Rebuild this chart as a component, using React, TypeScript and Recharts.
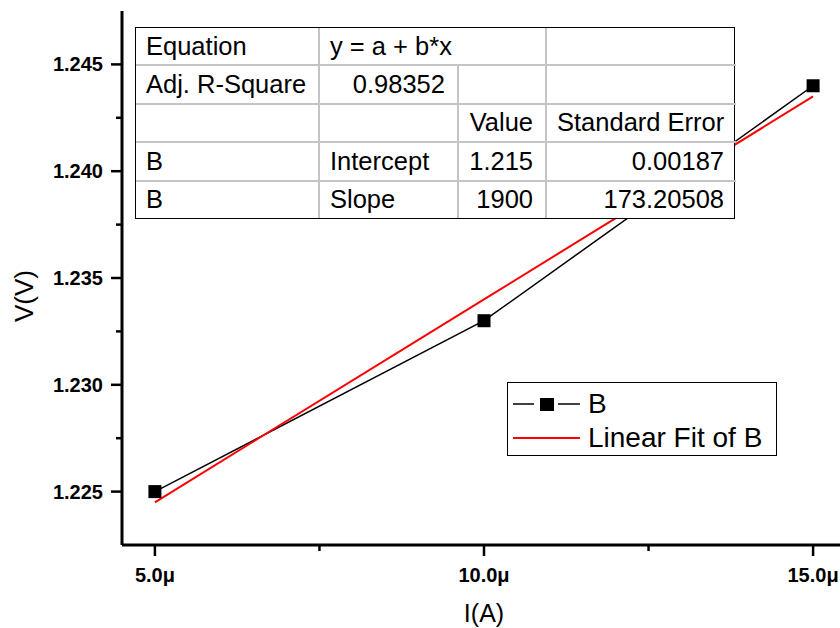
import React from 'react';
import { LineChart, Line, XAxis, YAxis, Legend, Label } from 'recharts';

// Data (current in μA, voltage in V)
const currents = [5, 10, 15];
const voltages = [1.225, 1.233, 1.244];
const fitVoltages = [1.2245, 1.234, 1.2435];

const xTicks = [5, 7.5, 10, 12.5, 15];
const yTicks = [1.225, 1.2275, 1.23, 1.2325, 1.235, 1.2375, 1.24, 1.2425, 1.245];

const tableRows: string[][] = [
  ['Equation', 'y = a + b*x', '', ''],
  ['Adj. R-Square', '0.98352', '', ''],
  ['', '', 'Value', 'Standard Error'],
  ['B', 'Intercept', '1.215', '0.00187'],
  ['B', 'Slope', '1900', '173.20508'],
];

const data = currents.map((c, i) => ({ x: c, v: voltages[i], fit: fitVoltages[i] }));

const FONT = '"Liberation Sans", Arial, sans-serif';

const XTick = (props: any) => {
  const { x, y, payload, index } = props;
  const major = index % 2 === 0;
  const top = y - 10;
  return (
    <g>
      <line x1={x} x2={x} y1={top} y2={top + (major ? 11 : 6)} stroke="#000" strokeWidth={2.5} />
      {major && (
        <text x={x} y={top + 37} textAnchor="middle" fontSize={20} fontWeight="bold" fontFamily={FONT} fill="#000">
          {payload.value.toFixed(1) + 'μ'}
        </text>
      )}
    </g>
  );
};

const YTick = (props: any) => {
  const { x, y, payload, index } = props;
  const major = index % 2 === 0;
  const right = x + 10;
  return (
    <g>
      <line x1={right} x2={right - (major ? 11 : 6)} y1={y} y2={y} stroke="#000" strokeWidth={2.5} />
      {major && (
        <text x={right - 19} y={y + 7} textAnchor="end" fontSize={20} fontWeight="bold" fontFamily={FONT} fill="#000">
          {payload.value.toFixed(3)}
        </text>
      )}
    </g>
  );
};

const SquareDot = (props: any) => {
  const { cx, cy } = props;
  if (cx == null || cy == null) return null;
  return <rect x={cx - 6.5} y={cy - 6.5} width={13} height={13} fill="#000" />;
};

const LegendContent = () => (
  <div
    style={{
      border: '1px solid #000',
      background: '#fff',
      width: 268,
      height: 72,
      fontFamily: FONT,
      fontSize: 28,
      color: '#000',
      boxSizing: 'content-box',
    }}
  >
    <div style={{ display: 'flex', alignItems: 'center', height: 34, marginTop: 4 }}>
      <svg width={80} height={34}>
        <line x1={5} x2={26} y1={17} y2={17} stroke="#000" strokeWidth={1.5} />
        <rect x={32} y={11} width={14} height={13} fill="#000" />
        <line x1={50} x2={72} y1={17} y2={17} stroke="#000" strokeWidth={1.5} />
      </svg>
      <span style={{ lineHeight: '34px' }}>B</span>
    </div>
    <div style={{ display: 'flex', alignItems: 'center', height: 34 }}>
      <svg width={80} height={34}>
        <line x1={5} x2={72} y1={17} y2={17} stroke="#ff0000" strokeWidth={2} />
      </svg>
      <span style={{ lineHeight: '34px' }}>Linear Fit of B</span>
    </div>
  </div>
);

const cellBase: React.CSSProperties = {
  border: '2px solid #c4c4c4',
  padding: '0 12px 0 10px',
  height: 36,
  whiteSpace: 'nowrap',
};

const colWidths = [183, 139, 88, 190];

const FitTable = () => (
  <div
    style={{
      position: 'absolute',
      left: 135,
      top: 27,
      width: 600,
      height: 192,
      border: '1.5px solid #000',
      background: '#fff',
      boxSizing: 'border-box',
      fontFamily: FONT,
      fontSize: 25.5,
      color: '#000',
    }}
  >
    <table
      style={{
        borderCollapse: 'collapse',
        borderStyle: 'hidden',
        width: '100%',
        height: '100%',
        tableLayout: 'fixed',
      }}
    >
      <colgroup>
        {colWidths.map((w, i) => (
          <col key={i} style={{ width: w }} />
        ))}
      </colgroup>
      <tbody>
        {tableRows.map((row, r) => {
          if (r === 0) {
            return (
              <tr key={r}>
                <td style={{ ...cellBase, textAlign: 'left' }}>{row[0]}</td>
                <td colSpan={2} style={{ ...cellBase, textAlign: 'left' }}>{row[1]}</td>
                <td style={cellBase}>{row[3]}</td>
              </tr>
            );
          }
          return (
            <tr key={r}>
              {row.map((cell, c) => {
                const numeric = cell !== '' && /^[0-9.\s]+$/.test(cell);
                const align = c === 0 ? 'left' : c === 1 ? (numeric ? 'right' : 'left') : 'right';
                return (
                  <td key={c} style={{ ...cellBase, textAlign: align as any }}>
                    {cell}
                  </td>
                );
              })}
            </tr>
          );
        })}
      </tbody>
    </table>
  </div>
);

const YLabel = (props: any) => {
  const { viewBox } = props;
  const x = viewBox.x + 33;
  const y = viewBox.y + viewBox.height / 2 + 18;
  return (
    <text
      x={x}
      y={y}
      transform={`rotate(-90, ${x}, ${y})`}
      textAnchor="middle"
      fontSize={26}
      fontFamily={FONT}
      fill="#000"
    >
      V(V)
    </text>
  );
};

export default function App() {
  return (
    <div
      style={{
        position: 'absolute',
        left: 0,
        top: 0,
        width: 840,
        height: 628,
        overflow: 'hidden',
        background: '#fff',
      }}
    >
      <LineChart
        width={860}
        height={628}
        data={data}
        margin={{ top: 11, right: 14, bottom: 0, left: 0 }}
        style={{ fontFamily: FONT }}
      >
        <XAxis
          dataKey="x"
          type="number"
          domain={[4.5, 15.5]}
          ticks={xTicks}
          interval={0}
          height={83}
          tickSize={10}
          tickMargin={0}
          tickLine={false}
          tick={<XTick />}
          axisLine={{ stroke: '#000', strokeWidth: 3 }}
          allowDataOverflow
        >
          <Label
            value="I(A)"
            position="insideBottom"
            offset={6}
            style={{ fontSize: 25, fontFamily: FONT, fill: '#000' }}
          />
        </XAxis>
        <XAxis
          xAxisId="top"
          orientation="top"
          dataKey="x"
          type="number"
          domain={[4.5, 15.5]}
          height={0}
          tick={false}
          tickLine={false}
          axisLine={{ stroke: '#000', strokeWidth: 3 }}
        />
        <YAxis
          type="number"
          domain={[1.2225, 1.2475]}
          ticks={yTicks}
          interval={0}
          width={122}
          tickSize={10}
          tickMargin={0}
          tickLine={false}
          tick={<YTick />}
          axisLine={{ stroke: '#000', strokeWidth: 3 }}
          allowDataOverflow
        >
          <Label content={<YLabel />} position="insideLeft" />
        </YAxis>
        <Legend
          layout="vertical"
          align="center"
          verticalAlign="middle"
          content={<LegendContent />}
          wrapperStyle={{ position: 'absolute', left: 507, top: 382, width: 270, height: 74 }}
        />
        <Line
          name="B"
          dataKey="v"
          stroke="#000"
          strokeWidth={1.5}
          dot={<SquareDot />}
          activeDot={false}
          isAnimationActive={false}
        />
        <Line
          name="Linear Fit of B"
          dataKey="fit"
          stroke="#ff0000"
          strokeWidth={2}
          dot={false}
          activeDot={false}
          isAnimationActive={false}
        />
      </LineChart>
      <FitTable />
    </div>
  );
}
